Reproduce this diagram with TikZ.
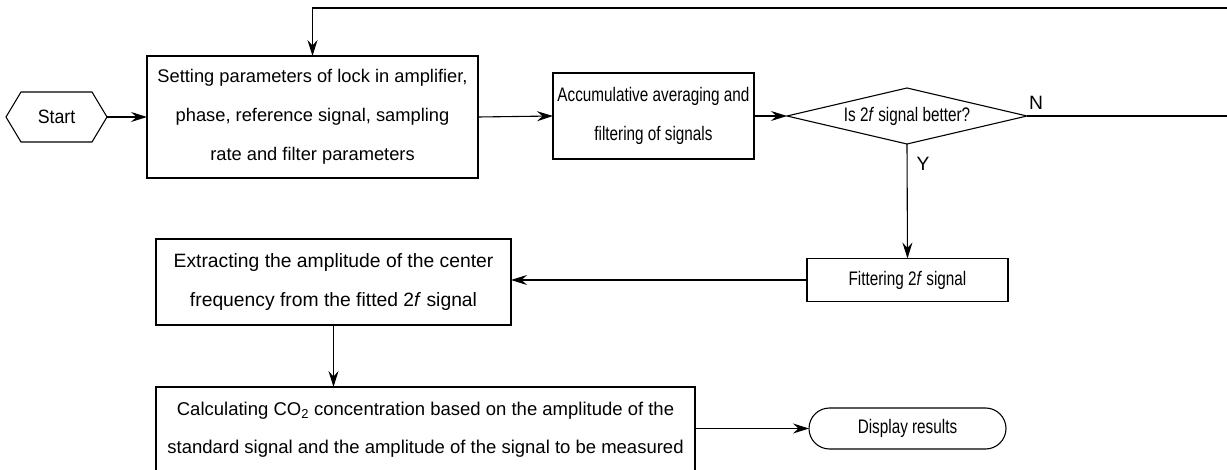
\documentclass[tikz,border=0pt]{standalone}
\usepackage{fontspec}
\setmainfont{Liberation Sans}
\newfontfamily\narrowfont[FakeStretch=0.78]{Liberation Sans}
\newfontfamily\startfont[FakeStretch=0.92]{Liberation Sans}
\usetikzlibrary{arrows.meta,shapes.misc}
\begin{document}
\begin{tikzpicture}[x=1pt,y=-1pt,
  every node/.style={inner sep=0pt, outer sep=0pt},
  txt/.style={font=\fontsize{19.3}{39}\selectfont},
  ntxt/.style={font=\narrowfont\fontsize{19.6}{39}\selectfont},
  box/.style={draw, line width=1.1pt, align=center, txt},
  nbox/.style={draw, line width=1.1pt, align=center, ntxt},
  conn/.style={line width=1.1pt},
  arr/.style={conn, -{Stealth[length=16pt,width=10pt,inset=5.5pt]}}]
\useasboundingbox (0,0) rectangle (1227,470);
\clip (0,0) rectangle (1227,470);

% nodes
\node[minimum width=101pt, minimum height=50pt, font=\startfont\fontsize{19.3}{39}\selectfont] (start) at (56.5,117) {Start};
\draw[conn] ([xshift=15pt]start.north west) -- ([xshift=-15pt]start.north east) -- (start.east)
  -- ([xshift=-15pt]start.south east) -- ([xshift=15pt]start.south west) -- (start.west) -- cycle;

\node[box, minimum width=331pt, minimum height=122pt, font=\fontsize{18.3}{39}\selectfont] (set) at (312.5,117)
  {Setting parameters of lock in amplifier,\\phase, reference signal, sampling\\rate and filter parameters};

\node[nbox, minimum width=201pt, minimum height=86pt] (acc) at (653.5,116)
  {Accumulative averaging and\\filtering of signals};

\node[ntxt, minimum width=240pt, minimum height=56pt] (dec) at (907,116) {Is 2\textit{f} signal better?};
\draw[conn] (dec.west) -- (dec.north) -- (dec.east) -- (dec.south) -- cycle;

\node[nbox, minimum width=201pt, minimum height=43pt] (fit) at (907.5,280) {Fittering 2\textit{f} signal};

\node[box, minimum width=355pt, minimum height=86pt] (ext) at (333.5,282)
  {Extracting the amplitude of the center\\frequency from the fitted 2\textit{f} signal};

\node[box, minimum width=539pt, minimum height=86pt, font=\fontsize{18.5}{38}\selectfont] (calc) at (425.5,430)
  {Calculating CO\textsubscript{2} concentration based on the amplitude of the\\standard signal and the amplitude of the signal to be measured};

\node[draw, line width=1.1pt, rounded rectangle, ntxt, minimum width=197pt, minimum height=41pt] (disp) at (907.5,428.5) {Display results};

\node[txt] (N) at (1036,103) {N};
\node[txt] (Y) at (923,164) {Y};

% connectors
\coordinate (fbR) at (1240,116);
\coordinate (fbT) at (1240,8);
\draw[arr] (start.east) -- (set.west);
\draw[arr] (set.east) -- (acc.west);
\draw[arr] (acc.east) -- (dec.west);
\draw[arr] (dec.east) -- (fbR) -- (fbT) -- (fbT -| set.north) -- (set.north);
\draw[arr] (dec.south) -- (fit.north);
\draw[arr] (fit.west) -- (fit.west -| ext.east);
\draw[arr] (ext.south) -- (ext.south |- calc.north);
\draw[arr] (calc.east |- disp.west) -- (disp.west);
\end{tikzpicture}
\end{document}
